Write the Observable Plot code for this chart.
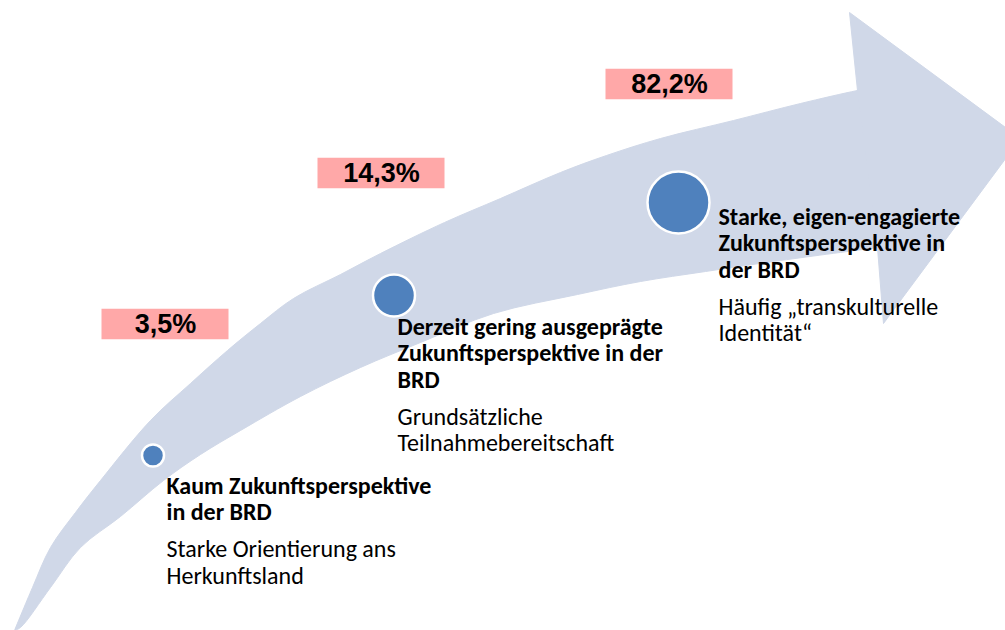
<!DOCTYPE html>
<html>
<head>
<meta charset="utf-8">
<script src="https://cdn.jsdelivr.net/npm/d3@7"></script>
<script src="https://cdn.jsdelivr.net/npm/@observablehq/plot@0.6"></script>
<style>
  html, body { margin: 0; padding: 0; background: #fff; overflow: hidden; }
  #chart { width: 1005px; height: 630px; overflow: hidden; }
</style>
</head>
<body>
<div id="chart"></div>
<script>
// ---- data ----
const shares = [3.5, 14.3, 82.2];
const headings = [
  ["Kaum Zukunftsperspektive", "in der BRD"],
  ["Derzeit gering ausgeprägte", "Zukunftsperspektive in der", "BRD"],
  ["Starke, eigen-engagierte", "Zukunftsperspektive in", "der BRD"]
];
const notes = [
  ["Starke Orientierung ans", "Herkunftsland"],
  ["Grundsätzliche", "Teilnahmebereitschaft"],
  ["Häufig „transkulturelle", "Identität“"]
];

// ---- layout (pixel coordinates) ----
const dotX = [152.5, 393.5, 678];
const dotY = [455, 295, 202];
const dotR = [11, 21, 31];
const labelX = [165, 381, 669];
const labelY = [324, 173, 84];
const textX = [166, 397, 718];
const textY = [486, 327, 217];

// body outline: upper edge from the tail tip to the head, then (inside the head) down to the lower edge and back to the tip
const arrowTopX = [14, 32, 50, 75, 100, 150, 190, 227, 260, 293, 340, 380, 444, 500, 560, 606, 660, 733, 800, 857, 880, 905, 895];
const arrowTopY = [630, 587, 547, 512, 480, 420, 383, 350, 323, 298, 274, 253, 222, 198, 172, 155, 138, 120, 103, 90, 86, 150, 245];
const arrowBottomX = [878, 780, 705, 640, 577, 493, 420, 360, 300, 240, 200, 163, 120, 80, 50, 20, 14];
const arrowBottomY = [247, 260, 271, 281, 294, 313, 342, 367, 396, 430, 454, 480, 516, 547, 587, 627, 630];
const arrowHeadX = [857, 849, 1020, 883, 877];
const arrowHeadY = [90, 12, 138, 323, 247];

// ---- styles ----
const arrowColor = "#D0D8E8";
const dotColor = "#4F81BD";
const labelColor = "#FFA8A8";
const textFont = "Carlito, Calibri, Lato, 'Open Sans', sans-serif";
const labelFont = "'Liberation Sans', Arial, sans-serif";
const lineStep = 26.3;
const noteGap = 37;

// ---- build tables ----
const body = [
  ...arrowTopX.map((x, i) => ({x, y: arrowTopY[i]})),
  ...arrowBottomX.map((x, i) => ({x, y: arrowBottomY[i]}))
];
const head = arrowHeadX.map((x, i) => ({x, y: arrowHeadY[i]}));
const dots = shares.map((s, i) => ({x: dotX[i], y: dotY[i], r: dotR[i]}));
const labels = shares.map((s, i) => ({
  x: labelX[i], y: labelY[i],
  text: s.toFixed(1).replace(".", ",") + "%"
}));
const lines = headings.flatMap((hs, i) => {
  const rows = hs.map((t, j) => ({x: textX[i], y: textY[i] + j * lineStep, text: t, bold: true}));
  const y0 = textY[i] + (hs.length - 1) * lineStep + noteGap;
  const nrows = notes[i].map((t, j) => ({x: textX[i], y: y0 + j * lineStep, text: t, bold: false}));
  return [...rows, ...nrows];
});

const chart = Plot.plot({
  width: 1005,
  height: 630,
  margin: 0,
  x: {domain: [0, 1005], axis: null},
  y: {domain: [630, 0], axis: null},
  r: {type: "identity"},
  style: {background: "white", overflow: "hidden"},
  marks: [
    Plot.line(body, {x: "x", y: "y", curve: "catmull-rom", fill: arrowColor, stroke: arrowColor, strokeWidth: 1}),
    Plot.line([...head, head[0]], {x: "x", y: "y", curve: "linear", fill: arrowColor, stroke: arrowColor, strokeWidth: 1}),
    Plot.rect(labels, {x1: d => d.x - 63.5, x2: d => d.x + 63.5, y1: d => d.y - 15.25, y2: d => d.y + 15.25, fill: labelColor}),
    Plot.text(labels, {x: "x", y: "y", text: "text", fontSize: 27, fontWeight: "bold", fontFamily: labelFont, fill: "black", lineAnchor: "middle"}),
    Plot.dot(dots, {x: "x", y: "y", r: "r", fill: dotColor, stroke: "white", strokeWidth: 2.5}),
    Plot.text(lines.filter(d => d.bold), {x: "x", y: "y", text: "text", textAnchor: "start", lineAnchor: "middle", fontSize: 24, fontWeight: "bold", fontFamily: textFont, fill: "black"}),
    Plot.text(lines.filter(d => !d.bold), {x: "x", y: "y", text: "text", textAnchor: "start", lineAnchor: "middle", fontSize: 24, fontWeight: "normal", fontFamily: textFont, fill: "black"})
  ]
});
document.getElementById("chart").appendChild(chart);
</script>
</body>
</html>
